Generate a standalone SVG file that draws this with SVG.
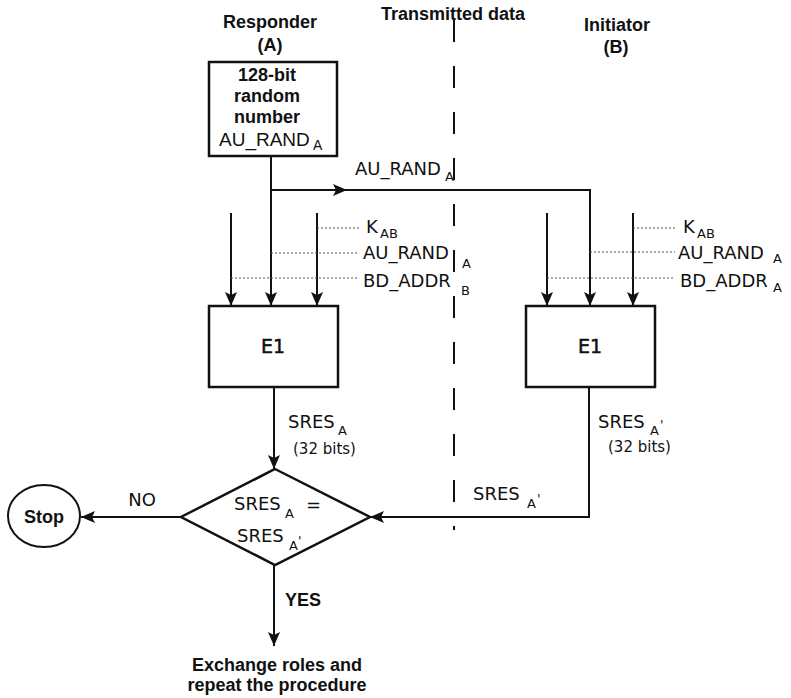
<svg xmlns="http://www.w3.org/2000/svg" width="791" height="698" viewBox="0 0 791 698">
<style>
.ln{fill:none;stroke:#111;stroke-width:2}
.box{fill:#fff;stroke:#111;stroke-width:2.5}
.dot{fill:none;stroke:#555;stroke-width:1;stroke-dasharray:2 2}
.hd{font-family:"Liberation Sans",Arial,sans-serif;font-weight:bold;font-size:18px;fill:#111}
.lb{font-family:"DejaVu Sans",Verdana,sans-serif;font-size:18px;fill:#111}
.sb{font-family:"DejaVu Sans",Verdana,sans-serif;font-size:13px;fill:#111}
.sm{font-family:"DejaVu Sans",Verdana,sans-serif;font-size:15px;fill:#111}
.e1{font-family:"DejaVu Sans",Verdana,sans-serif;font-size:19px;fill:#111;stroke:#111;stroke-width:0.5}
</style>
<defs>
<marker id="ah" viewBox="0 0 14 12" refX="14" refY="6" markerWidth="14" markerHeight="12" orient="auto" markerUnits="userSpaceOnUse">
<path d="M0,0 L14,6 L0,12 L3,6 Z" fill="#111"/>
</marker>
</defs>
<rect width="791" height="698" fill="#fff"/>

<g id="headers">
<text class="hd" x="270" y="28" text-anchor="middle">Responder</text>
<text class="hd" x="270" y="51" text-anchor="middle">(A)</text>
<text class="hd" x="453" y="20" text-anchor="middle">Transmitted data</text>
<text class="hd" x="617" y="31" text-anchor="middle">Initiator</text>
<text class="hd" x="616" y="53" text-anchor="middle">(B)</text>
</g>

<g id="divider">
<line x1="454" y1="20" x2="454" y2="530" stroke="#111" stroke-width="2" stroke-dasharray="22 24"/>
</g>

<g id="connectors">
<path class="ln" d="M271,156 V306" marker-end="url(#ah)"/>
<path class="ln" d="M271,190 H347" marker-end="url(#ah)"/>
<path class="ln" d="M345,190 H590 V306" marker-end="url(#ah)"/>
<path class="ln" d="M231,213 V306" marker-end="url(#ah)"/>
<path class="ln" d="M317,213 V306" marker-end="url(#ah)"/>
<path class="ln" d="M547,213 V306" marker-end="url(#ah)"/>
<path class="ln" d="M633,213 V306" marker-end="url(#ah)"/>
<path class="dot" d="M317,228 H359 M271,253 H357 M231,278 H357"/>
<path class="dot" d="M633,228 H675 M590,252 H675 M547,278 H675"/>
<path class="ln" d="M274,387 V469" marker-end="url(#ah)"/>
<path class="ln" d="M589,387 V517 H370" marker-end="url(#ah)"/>
<path class="ln" d="M181,517 H81" marker-end="url(#ah)"/>
<path class="ln" d="M274,565 V646" marker-end="url(#ah)"/>
</g>

<g id="labels">
<text class="lb" x="355" y="175">AU_RAND</text><text class="sb" x="445" y="181">A</text>
<text class="lb" x="366" y="233">K</text><text class="sb" x="380" y="238">AB</text>
<text class="lb" x="363" y="259">AU_RAND</text><text class="sb" x="462" y="268">A</text>
<text class="lb" x="363" y="287">BD_ADDR</text><text class="sb" x="461" y="295">B</text>
<text class="lb" x="683" y="233">K</text><text class="sb" x="697" y="238">AB</text>
<text class="lb" x="678" y="259">AU_RAND</text><text class="sb" x="773" y="263">A</text>
<text class="lb" x="680" y="287">BD_ADDR</text><text class="sb" x="773" y="292">A</text>
<text class="lb" x="288" y="428">SRES</text><text class="sb" x="338" y="435">A</text>
<text class="sm" x="293" y="454">(32 bits)</text>
<text class="lb" x="598" y="428">SRES</text><text class="sb" x="650" y="435">A</text><text class="sb" x="660" y="429">'</text>
<text class="sm" x="608" y="452">(32 bits)</text>
<text class="lb" x="473" y="500">SRES</text><text class="sb" x="527" y="508">A</text><text class="sb" x="537" y="503">'</text>
<text class="lb" x="142" y="506" text-anchor="middle" font-size="17">NO</text>
<text class="hd" x="285" y="606" font-size="17">YES</text>
</g>

<g id="random">
<rect class="box" x="209" y="62" width="128" height="94"/>
<text class="hd" x="267" y="81" text-anchor="middle">128-bit</text>
<text class="hd" x="267" y="102" text-anchor="middle">random</text>
<text class="hd" x="267" y="123" text-anchor="middle">number</text>
<text x="219" y="146" font-family="Liberation Sans, Arial, sans-serif" font-size="19" fill="#111">AU_RAND</text>
<text x="313" y="150" font-family="Liberation Sans, Arial, sans-serif" font-size="14" fill="#111">A</text>
</g>

<g id="e1-left">
<rect class="box" x="209" y="306" width="129" height="81"/>
<text class="e1" x="273" y="353" text-anchor="middle">E1</text>
</g>

<g id="e1-right">
<rect class="box" x="526" y="306" width="129" height="81"/>
<text class="e1" x="590" y="353" text-anchor="middle">E1</text>
</g>

<g id="compare">
<polygon class="box" points="275,469 370,517 275,565 181,517"/>
<text class="lb" x="234" y="510">SRES</text><text class="sb" x="285" y="518">A</text>
<text class="lb" x="306" y="511">=</text>
<text class="lb" x="237" y="542">SRES</text><text class="sb" x="289" y="550">A</text><text class="sb" x="298" y="545">'</text>
</g>

<g id="stop">
<ellipse cx="44" cy="516" rx="36" ry="31" fill="#fff" stroke="#111" stroke-width="2"/>
<text class="hd" x="44" y="523" text-anchor="middle" font-size="17">Stop</text>
</g>

<g id="result">
<text class="hd" x="277" y="671" text-anchor="middle">Exchange roles and</text>
<text class="hd" x="277" y="691" text-anchor="middle">repeat the procedure</text>
</g>
</svg>
